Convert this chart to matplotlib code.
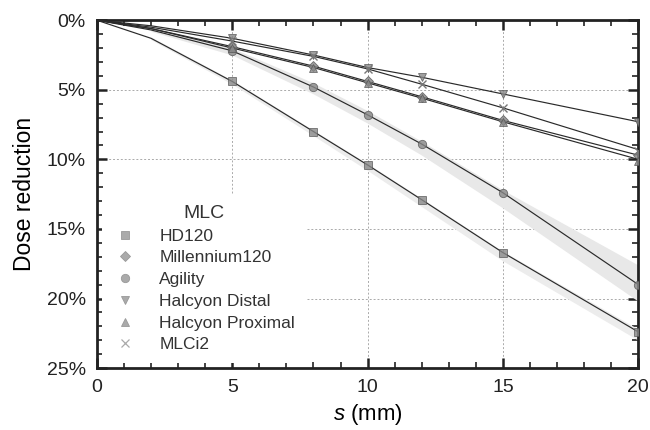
import matplotlib
matplotlib.use("Agg")
import matplotlib.pyplot as plt
from matplotlib.ticker import MultipleLocator, FuncFormatter
from matplotlib.lines import Line2D

plt.rcParams["font.family"] = ["Liberation Sans", "DejaVu Sans"]
plt.rcParams["mathtext.fontset"] = "custom"
plt.rcParams["mathtext.it"] = "Liberation Sans:italic"
plt.rcParams["mathtext.rm"] = "Liberation Sans"

# measured points (s in mm, dose reduction in %)
s_pts = [5, 8, 10, 12, 15, 20]
hd120 = [4.4, 8.0, 10.4, 12.9, 16.7, 22.4]
millennium120 = [1.9, 3.3, 4.4, 5.5, 7.2, 9.7]
agility = [2.2, 4.8, 6.8, 8.9, 12.4, 19.0]
halcyon_distal = [1.3, 2.5, 3.4, 4.1, 5.3, 7.3]
halcyon_proximal = [2.0, 3.4, 4.5, 5.6, 7.3, 10.1]
mlci2 = [1.5, 2.6, 3.5, 4.6, 6.3, 9.4]

# model curves through the origin
s_line = [0, 2, 5, 8, 10, 12, 15, 20]
hd120_line = [0, 1.3, 4.4, 8.0, 10.4, 12.9, 16.7, 22.4]
millennium120_line = [0, 0.6, 1.9, 3.3, 4.4, 5.5, 7.2, 9.7]
agility_line = [0, 0.7, 2.2, 4.8, 6.8, 8.9, 12.4, 19.0]
halcyon_distal_line = [0, 0.4, 1.3, 2.5, 3.4, 4.1, 5.3, 7.3]
halcyon_proximal_line = [0, 0.6, 2.0, 3.4, 4.5, 5.6, 7.3, 10.0]
mlci2_line = [0, 0.5, 1.5, 2.6, 3.5, 4.6, 6.3, 9.3]

# uncertainty bands
band_s = [2, 5, 8, 10, 12, 15, 20]
agility_lo = [0.6, 2.0, 4.5, 6.5, 8.7, 12.2, 17.6]
agility_hi = [0.8, 2.5, 5.3, 7.4, 9.7, 13.5, 20.2]
hd120_lo = [1.2, 4.3, 7.9, 10.3, 12.8, 16.6, 22.2]
hd120_hi = [1.4, 4.6, 8.3, 10.8, 13.4, 17.3, 23.0]

labels = ["HD120", "Millennium120", "Agility", "Halcyon Distal",
          "Halcyon Proximal", "MLCi2"]
markers = ["s", "D", "o", "v", "^", "x"]
pts = [hd120, millennium120, agility, halcyon_distal, halcyon_proximal, mlci2]
lines = [hd120_line, millennium120_line, agility_line, halcyon_distal_line,
         halcyon_proximal_line, mlci2_line]

fig = plt.figure(figsize=(6.5, 4.3), dpi=100)
ax = fig.add_axes([0.149, 0.144, 0.833, 0.809])

ax.fill_between(band_s, agility_lo, agility_hi, color="#e8e8e8", lw=0, zorder=1)
ax.fill_between(band_s, hd120_lo, hd120_hi, color="#ececec", lw=0, zorder=1)

for y in lines:
    ax.plot(s_line, y, color="#2a2a2a", lw=0.85, zorder=3)
for y, m in zip(pts, markers):
    if m == "x":
        ax.plot(s_pts, y, ls="none", marker=m, ms=6, mew=1.0,
                color="#777777", zorder=4)
    else:
        ax.plot(s_pts, y, ls="none", marker=m, ms=6 if m != "D" else 5,
                mfc="#888888", mec="#555555", mew=0.6, alpha=0.8, zorder=4)

ax.set_xlim(0, 20)
ax.set_ylim(25, 0)
ax.xaxis.set_major_locator(MultipleLocator(5))
ax.xaxis.set_minor_locator(MultipleLocator(1))
ax.yaxis.set_major_locator(MultipleLocator(5))
ax.yaxis.set_minor_locator(MultipleLocator(1))
ax.yaxis.set_major_formatter(FuncFormatter(lambda v, p: f"{v:.0f}%"))
ax.tick_params(which="both", direction="in", top=True, right=True,
               width=1.2, labelsize=14, colors="#222222")
ax.tick_params(which="major", length=7, width=1.8, pad=8)
ax.tick_params(which="minor", length=4)
for sp in ax.spines.values():
    sp.set_linewidth(2)
    sp.set_color("#222222")
ax.grid(True, which="major", ls=(0, (2, 2)), color="#aaaaaa", lw=0.7, zorder=0)
ax.set_axisbelow(True)

ax.set_xlabel(r"$s$ (mm)", fontsize=16, labelpad=4)
ax.set_ylabel("Dose reduction", fontsize=16.5, labelpad=8)

handles = []
for m in markers:
    if m == "x":
        h = Line2D([], [], ls="none", marker=m, ms=6, mew=0.9, color="#aaaaaa")
    else:
        h = Line2D([], [], ls="none", marker=m, ms=6 if m != "D" else 5,
                   mfc="#aaaaaa", mec="#999999", mew=0.6)
    handles.append(h)
leg = ax.legend(handles, labels, title="MLC", loc="lower left",
                bbox_to_anchor=(0.0, 0.0), fontsize=12.5, title_fontsize=14,
                frameon=True, framealpha=1, edgecolor="none", facecolor="white",
                borderaxespad=0.3, handletextpad=1.2, labelspacing=0.38,
                handlelength=1.5, borderpad=0.6)
leg.get_frame().set_linewidth(0)
leg.set_zorder(2)
for t in leg.get_texts():
    t.set_color("#333333")
leg.get_title().set_color("#333333")

fig.savefig("out.png", dpi=100)
